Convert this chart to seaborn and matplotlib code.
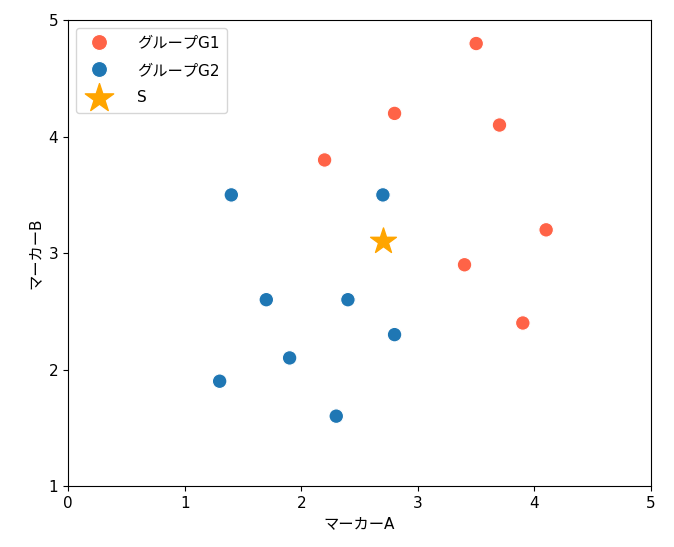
import numpy as np
import pandas as pd
import seaborn as sns
import matplotlib.pyplot as plt

plt.rcParams['font.family'] = ['DejaVu Sans', 'Noto Sans CJK JP']
plt.rcParams['font.size'] = 11

# グループG1
g1_x = [3.5, 2.8, 3.7, 2.2, 4.1, 3.4, 3.9]
g1_y = [4.8, 4.2, 4.1, 3.8, 3.2, 2.9, 2.4]
# グループG2
g2_x = [1.4, 2.7, 1.7, 2.4, 2.8, 1.9, 1.3, 2.3]
g2_y = [3.5, 3.5, 2.6, 2.6, 2.3, 2.1, 1.9, 1.6]
# S
s_x = [2.7]
s_y = [3.1]

df = pd.DataFrame({
    "マーカーA": g1_x + g2_x,
    "マーカーB": g1_y + g2_y,
    "group": ["グループG1"] * len(g1_x) + ["グループG2"] * len(g2_x),
})

fig, ax = plt.subplots(figsize=(6.74, 5.47), dpi=100)
sns.scatterplot(data=df, x="マーカーA", y="マーカーB", hue="group",
                palette={"グループG1": "tomato", "グループG2": "#1f77b4"},
                s=110, ax=ax)
ax.scatter(s_x, s_y, marker="*", s=380, color="orange", label="S", zorder=3)

ax.set_xlim(0, 5)
ax.set_ylim(1, 5)
ax.set_xticks(range(0, 6))
ax.set_yticks(range(1, 6))
ax.legend(loc="upper left", markerscale=1.1, handletextpad=1.5,
          labelspacing=0.8, borderpad=0.5)

fig.subplots_adjust(left=0.101, right=0.966, top=0.963, bottom=0.1115)
plt.savefig("out.png", dpi=100)
